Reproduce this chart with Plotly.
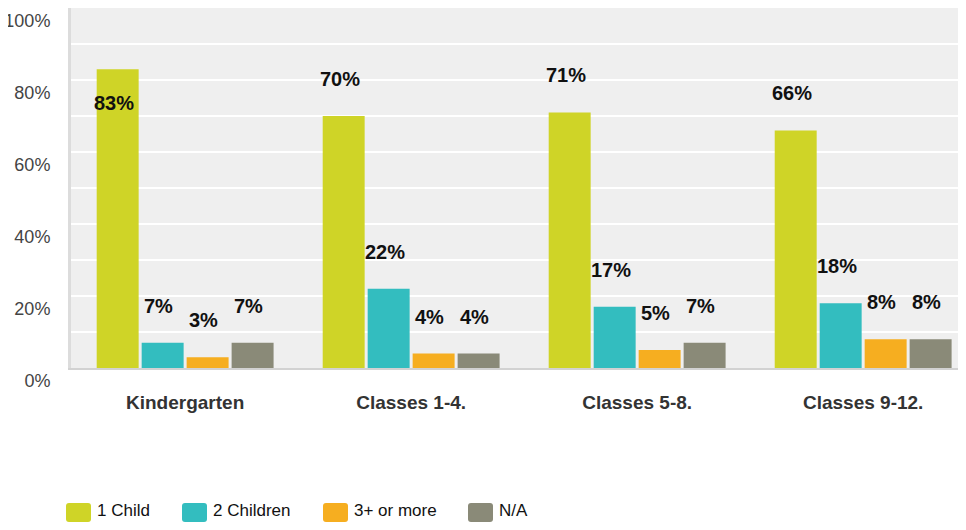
import plotly.graph_objects as go

categories = ["Kindergarten", "Classes 1-4.", "Classes 5-8.", "Classes 9-12."]
series_names = ["1 Child", "2 Children", "3+ or more", "N/A"]
one_child = [83, 70, 71, 66]
two_children = [7, 22, 17, 18]
three_plus = [3, 4, 5, 8]
not_available = [7, 4, 7, 8]
y_tick_vals = [0, 20, 40, 60, 80, 100]
y_tick_text = ["0%", "20%", "40%", "60%", "80%", "100%"]

series_values = [one_child, two_children, three_plus, not_available]
colors = ["#CFD427", "#33BDBF", "#F6AE20", "#8A8A78"]

# page body has an 8px margin; figure is sized so the page fits the window
OFF = 8
W, H = 958, 514
ML, MR, MT, MB = 63, 0, 0, 154
PW, PH = W - ML - MR, H - MT - MB

fig = go.Figure()
for name, vals, col in zip(series_names, series_values, colors):
    fig.add_trace(go.Bar(name=name, x=categories, y=vals, showlegend=False,
                         marker=dict(color=col, line=dict(width=0))))

# value labels above bars
slot = 45
for i, vals in enumerate(series_values):
    for cat, v in zip(categories, vals):
        inside = v > 80
        fig.add_annotation(
            x=cat, y=v, text=f"{v}%", showarrow=False,
            xshift=(i - 1.5) * slot - 4,
            yshift=-34 if inside else 37,
            font=dict(family="Liberation Sans, Arial", size=20, color="#111111", weight="bold"),
        )

# legend (rounded swatches + labels), positions given in screen pixels
def px_x(p):
    return (p - OFF - ML) / PW

def px_y(p):
    return (H - MB - (p - OFF)) / PH

def rounded_rect(x0, y0, x1, y1, r):
    X0, X1 = px_x(x0), px_x(x1)
    Y0, Y1 = px_y(y1), px_y(y0)
    rx, ry = r / PW, r / PH
    return (f"M{X0+rx},{Y0} L{X1-rx},{Y0} Q{X1},{Y0} {X1},{Y0+ry} "
            f"L{X1},{Y1-ry} Q{X1},{Y1} {X1-rx},{Y1} L{X0+rx},{Y1} "
            f"Q{X0},{Y1} {X0},{Y1-ry} L{X0},{Y0+ry} Q{X0},{Y0} {X0+rx},{Y0} Z")

legend_swatch_left = [66, 182, 323, 468]
for name, col, lx in zip(series_names, colors, legend_swatch_left):
    fig.add_shape(type="path", xref="paper", yref="paper",
                  path=rounded_rect(lx, 503, lx + 25, 522, 3),
                  fillcolor=col, line=dict(width=0))
    fig.add_annotation(xref="paper", yref="paper", x=px_x(lx + 29), y=px_y(510),
                       xanchor="left", yanchor="middle", text=name, showarrow=False,
                       font=dict(family="Liberation Sans, Arial", size=17, color="#111111"))

fig.update_layout(
    width=W, height=H,
    margin=dict(l=ML, r=MR, t=MT, b=MB, pad=0),
    paper_bgcolor="white", plot_bgcolor="#EFEFEF",
    barmode="group", bargap=0.204, bargroupgap=0.067,
    font=dict(family="Liberation Sans, Arial", color="#444444"),
    showlegend=False,
)
fig.update_xaxes(
    range=[-0.505, 3.455], showgrid=False, zeroline=False, automargin=False,
    showline=True, linecolor="#D2D2D2", linewidth=2,
    ticks="", ticklabelstandoff=16,
    tickfont=dict(size=19, color="#333333", weight="bold"),
)
fig.update_yaxes(
    range=[0, 100], tickvals=y_tick_vals, ticktext=y_tick_text, automargin=False,
    showgrid=True, gridcolor="white", gridwidth=2,
    minor=dict(dtick=10, showgrid=True, gridcolor="white", gridwidth=2),
    zeroline=False, showline=True, linecolor="#DCDCDC", linewidth=3,
    ticks="", ticklabelstandoff=14, ticklabelposition="outside bottom",
    ticklabeloverflow="allow",
    tickfont=dict(size=18, color="#444444"),
)

fig.write_html("out.html")
